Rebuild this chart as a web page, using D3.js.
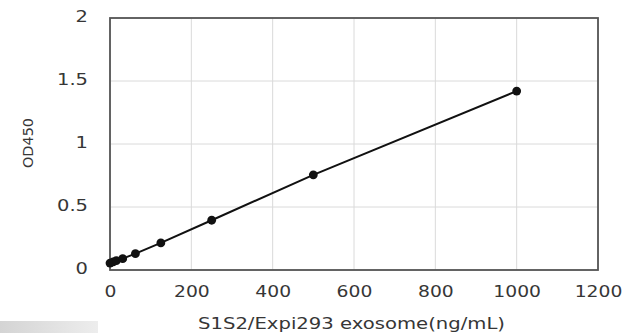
<!DOCTYPE html>
<html><head><meta charset="utf-8">
<script src="https://cdn.jsdelivr.net/npm/d3@7"></script>
<style>body{margin:0;background:#fff}svg{display:block}</style>
</head><body>
<svg id="chart" width="624" height="333"></svg>
<script>
const concentrations = [0, 7.8, 15.6, 31.25, 62.5, 125, 250, 500, 1000];
const odValues = [0.055, 0.065, 0.075, 0.09, 0.13, 0.215, 0.395, 0.755, 1.42];
const xTicks = [0, 200, 400, 600, 800, 1000, 1200];
const yTicks = [0, 0.5, 1, 1.5, 2];
const xTitle = "S1S2/Expi293 exosome(ng/mL)";
const yTitle = "OD450";

const svg = d3.select("#chart");
const m = {l:110, r:26, t:18, b:63};
const W = 624, H = 333;
const x = d3.scaleLinear().domain([0,1200]).range([m.l, W-m.r]);
const y = d3.scaleLinear().domain([0,2]).range([H-m.b, m.t]);
const font = "DejaVu Sans, Verdana, sans-serif";
const txt = "#363636";

// decorative grey fragment bottom-left
const grad = svg.append("defs").append("linearGradient").attr("id","gg").attr("x1",0).attr("x2",1);
grad.append("stop").attr("offset",0).attr("stop-color","#d4d4d4");
grad.append("stop").attr("offset",1).attr("stop-color","#ededed");
svg.append("rect").attr("x",0).attr("y",321).attr("width",98).attr("height",12).attr("fill","url(#gg)");

// grid
svg.append("g").selectAll("line").data(xTicks).join("line")
  .attr("x1",d=>x(d)).attr("x2",d=>x(d)).attr("y1",y(0)).attr("y2",y(2))
  .attr("stroke","#dadada").attr("stroke-width",1);
svg.append("g").selectAll("line").data(yTicks).join("line")
  .attr("x1",x(0)).attr("x2",x(1200)).attr("y1",d=>y(d)).attr("y2",d=>y(d))
  .attr("stroke","#dadada").attr("stroke-width",1);

// frame
svg.append("rect").attr("x",x(0)).attr("y",y(2)).attr("width",x(1200)-x(0)).attr("height",y(0)-y(2))
  .attr("fill","none").attr("stroke","#555").attr("stroke-width",1.8);

// axes (labels only)
const xa = svg.append("g").attr("transform",`translate(0,${y(0)})`)
  .call(d3.axisBottom(x).tickValues(xTicks).tickSize(0).tickPadding(16).tickFormat(d3.format("d")));
xa.select(".domain").remove();
xa.selectAll("text").attr("font-family",font).attr("font-size",15).attr("fill",txt)
  .attr("transform","scale(1.25,1)");

const ya = svg.append("g").attr("transform",`translate(${x(0)},0)`)
  .call(d3.axisLeft(y).tickValues(yTicks).tickSize(0).tickFormat(d=>String(d)));
ya.select(".domain").remove();
ya.selectAll("text").attr("font-family",font).attr("font-size",15).attr("fill",txt)
  .attr("x",0).attr("transform","translate(-22,-1) scale(1.3,1)");

// titles
svg.append("text").attr("x",198).attr("y",329)
  .attr("textLength",307).attr("lengthAdjust","spacingAndGlyphs")
  .attr("font-family",font).attr("font-size",15.5).attr("fill",txt).text(xTitle);
svg.append("text").attr("transform",`translate(33,${y(1)-1}) rotate(-90)`).attr("text-anchor","middle")
  .attr("textLength",50).attr("lengthAdjust","spacingAndGlyphs")
  .attr("font-family",font).attr("font-size",14).attr("fill",txt).text(yTitle);

// data
const data = concentrations.map((c,i)=>({c, v:odValues[i]}));
svg.append("path").datum(data)
  .attr("d", d3.line().x(d=>x(d.c)).y(d=>y(d.v)))
  .attr("fill","none").attr("stroke","#111").attr("stroke-width",2);
svg.append("g").selectAll("circle").data(data).join("circle")
  .attr("cx",d=>x(d.c)).attr("cy",d=>y(d.v)).attr("r",4.4).attr("fill","#111");
</script>
</body></html>
